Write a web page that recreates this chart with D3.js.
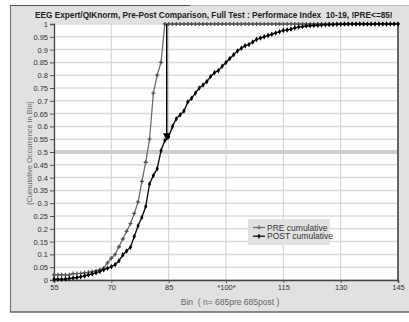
<!DOCTYPE html>
<html><head><meta charset="utf-8">
<script src="https://cdn.jsdelivr.net/npm/d3@7"></script>
<style>body{margin:0;background:#fff}svg{display:block;font-family:"Liberation Sans",Arial,sans-serif}</style>
</head><body>
<svg id="c" width="409" height="322"></svg>
<script>
const title = "EEG Expert/QIKnorm, Pre-Post Comparison, Full Test : Performace Index\u00a0\u00a010-19, !PRE<=85!";
const xLabel = "Bin\u00a0\u00a0( n= 685pre 685post )";
const yLabel = "[Cumulative Occurrence in Bin]";
const xTickValues = [55, 70, 85, 100, 115, 130, 145];
const xTickLabels = ["55", "70", "85", "*100*", "115", "130", "145"];
const yTickValues = d3.range(0, 21).map(i => +(i * 0.05).toFixed(2));
const preBins = d3.range(55, 146);
const preValues = [0.02,0.02,0.02,0.02,0.02,0.025,0.025,0.026,0.028,0.03,0.033,0.036,0.04,0.046,0.067,0.085,0.1,0.13,0.16,0.19,0.22,0.26,0.305,0.385,0.46,0.55,0.73,0.80,0.85,
  1,1,1,1,1,1,1,1,1,1,1,1,1,1,1,1,1,1,1,1,1,1,1,1,1,1,1,1,1,1,1,1,1,1,1,1,1,1,1,1,1,1,1,1,1,1,1,1,1,1,1,1,1,1,1,1,1,1,1,1,1,1,1];
const postBins = d3.range(55, 146);
const postValues = [0.003,0.003,0.003,0.004,0.006,0.008,0.01,0.013,0.016,0.02,0.024,0.028,0.033,0.04,0.046,0.052,0.06,0.075,0.098,0.113,0.128,0.17,0.212,0.245,0.287,0.375,0.408,0.435,0.505,0.545,
  0.56,0.60,0.63,0.645,0.66,0.695,0.71,0.73,0.75,0.762,0.775,0.795,0.81,0.818,0.835,0.85,0.865,0.88,0.895,0.905,0.915,0.92,0.93,0.94,0.945,0.95,0.955,0.96,0.965,0.97,0.975,0.977,0.98,0.985,0.988,0.99,0.992,0.993,0.994,0.995,0.996,0.997,0.998,0.998,0.999,0.999,1,1,1,1,1,1,1,1,1,1,1,1,1,1,1];
const arrowX = [84.5];
const arrowY = [1, 0.547];
const seriesNames = ["PRE cumulative", "POST cumulative"];

const svg = d3.select("#c");
const L = 54, R = 398, T = 24, B = 280;
const x = d3.scaleLinear().domain([55, 145]).range([L, R]);
const y = d3.scaleLinear().domain([0, 1]).range([B, T]);

// panel
svg.append("rect").attr("x", 10).attr("y", 5).attr("width", 409).attr("height", 307).attr("fill", "#e1e1e1");
svg.append("line").attr("x1", 10).attr("x2", 190).attr("y1", 5.5).attr("y2", 5.5).attr("stroke", "#555").attr("stroke-width", 1.2);
svg.append("line").attr("x1", 190).attr("x2", 409).attr("y1", 5.5).attr("y2", 5.5).attr("stroke", "#bbb").attr("stroke-width", 1);
svg.append("line").attr("x1", 10.5).attr("x2", 10.5).attr("y1", 5).attr("y2", 312).attr("stroke", "#777").attr("stroke-width", 1.2);
svg.append("line").attr("x1", 10).attr("x2", 409).attr("y1", 312).attr("y2", 312).attr("stroke", "#666").attr("stroke-width", 1.6);

// plot area
svg.append("rect").attr("x", L).attr("y", T).attr("width", R - L).attr("height", B - T).attr("fill", "#fff");

// horizontal grid
svg.append("g").selectAll("line").data(yTickValues).join("line")
  .attr("x1", L).attr("x2", R).attr("y1", d => y(d)).attr("y2", d => y(d))
  .attr("stroke", d => d === 0.5 ? "#cfcfcf" : "#dcdcdc")
  .attr("stroke-width", d => d === 0.5 ? 4 : 1.5);
// vertical grid
svg.append("g").selectAll("line").data(xTickValues.slice(1, -1)).join("line")
  .attr("x1", d => x(d)).attr("x2", d => x(d)).attr("y1", T).attr("y2", B)
  .attr("stroke", "#cfcfcf").attr("stroke-width", 1);

// axes
const yAxis = d3.axisLeft(y).tickValues(yTickValues).tickSize(4).tickPadding(2)
  .tickFormat(d => d3.format("")(+d.toFixed(2)));
const gy = svg.append("g").attr("transform", `translate(${L},0)`).call(yAxis);
gy.select(".domain").attr("stroke", "#444").attr("stroke-width", 1.3);
gy.selectAll(".tick line").attr("stroke", "#555");
gy.selectAll("text").attr("font-size", 7.5).attr("fill", "#333");

const xAxis = d3.axisBottom(x).tickValues(xTickValues).tickSize(3).tickPadding(2)
  .tickFormat((d, i) => xTickLabels[i]);
const gx = svg.append("g").attr("transform", `translate(0,${B})`).call(xAxis);
gx.select(".domain").attr("stroke", "#444").attr("stroke-width", 1.5);
gx.selectAll(".tick line").attr("stroke", "#555");
gx.selectAll("text").attr("font-size", 7.5).attr("fill", "#333");

// right border
svg.append("line").attr("x1", R).attr("x2", R).attr("y1", T - 1).attr("y2", B).attr("stroke", "#555").attr("stroke-width", 1.8);

// series
const pre = preBins.map((b, i) => [b, preValues[i]]);
const post = postBins.map((b, i) => [b, postValues[i]]);
const line = d3.line().x(d => x(d[0])).y(d => y(d[1]));
svg.append("path").datum(pre).attr("d", line).attr("fill", "none").attr("stroke", "#6e6e6e").attr("stroke-width", 1.3);
svg.append("g").selectAll("path").data(pre).join("path")
  .attr("d", d3.symbol(d3.symbolCross, 9)).attr("transform", d => `translate(${x(d[0])},${y(d[1])})`)
  .attr("fill", "#555");
svg.append("path").datum(post).attr("d", line).attr("fill", "none").attr("stroke", "#111").attr("stroke-width", 1.4);
svg.append("g").selectAll("path").data(post).join("path")
  .attr("d", d3.symbol(d3.symbolDiamond, 9)).attr("transform", d => `translate(${x(d[0])},${y(d[1])})`)
  .attr("fill", "#000");

// arrow
svg.append("defs").append("marker").attr("id", "ah").attr("viewBox", "0 0 10 10").attr("refX", 9).attr("refY", 5)
  .attr("markerWidth", 5).attr("markerHeight", 5).attr("orient", "auto")
  .append("path").attr("d", "M0,0L10,5L0,10z").attr("fill", "#000");
svg.append("line").attr("x1", x(arrowX[0])).attr("x2", x(arrowX[0])).attr("y1", y(arrowY[0])).attr("y2", y(arrowY[1]))
  .attr("stroke", "#000").attr("stroke-width", 1.5).attr("marker-end", "url(#ah)");

// title (fit to reference width by horizontal scaling)
const tg = svg.append("g");
const tt = tg.append("text").attr("x", 0).attr("y", 0)
  .attr("font-size", 9).attr("font-weight", "bold").attr("fill", "#222").text(title);
const tw = tt.node().getComputedTextLength();
const sx = Math.min(1, 358 / tw);
tg.attr("transform", `translate(35,18) scale(${sx},1)`);

// axis titles
svg.append("text").attr("x", 230).attr("y", 305).attr("text-anchor", "middle").attr("font-size", 8.5).attr("fill", "#666").text(xLabel);
svg.append("text").attr("transform", "translate(32,153) rotate(-90)").attr("text-anchor", "middle").attr("font-size", 7.5).attr("fill", "#6a6a6a").text(yLabel);

// legend
const lg = svg.append("g").attr("transform", "translate(248,219)");
lg.append("rect").attr("width", 82).attr("height", 26).attr("fill", "#e1e1e1");
const colors = ["#6e6e6e", "#111"];
const syms = [d3.symbolCross, d3.symbolDiamond];
seriesNames.forEach((n, i) => {
  const yy = 8.5 + i * 8.7;
  lg.append("line").attr("x1", 5).attr("x2", 17).attr("y1", yy).attr("y2", yy).attr("stroke", colors[i]).attr("stroke-width", 1.3);
  lg.append("path").attr("d", d3.symbol(syms[i], 9)).attr("transform", `translate(11,${yy})`).attr("fill", colors[i]);
  lg.append("text").attr("x", 19).attr("y", yy + 3).attr("font-size", 8.5).attr("fill", "#333").text(n);
});
</script>
</body></html>
